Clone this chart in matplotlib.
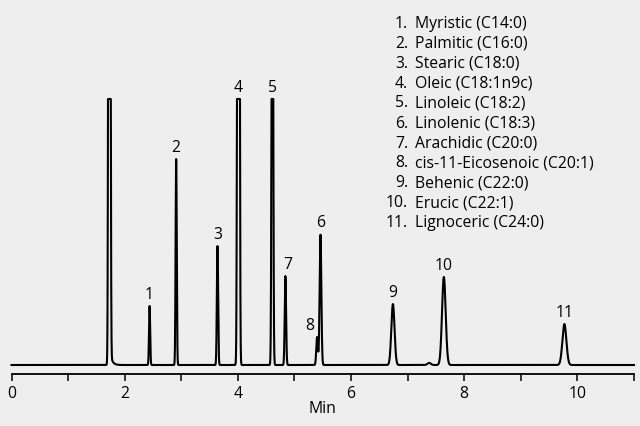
import numpy as np
import matplotlib
matplotlib.use('Agg')
import matplotlib.pyplot as plt

plt.rcParams['font.family'] = ['Open Sans', 'DejaVu Sans']

# numbered peaks (retention time in min, relative height, peak sigma in min)
peak_no = ['1', '2', '3', '4', '5', '6', '7', '8', '9', '10', '11']
peak_time = [2.44, 2.91, 3.64, 4.01, 4.61, 5.46, 4.84, 5.40, 6.74, 7.64, 9.77]
peak_height = [0.222, 0.774, 0.447, 10.0, 2.5, 0.49, 0.335, 0.105, 0.229, 0.331, 0.154]
peak_sigma = [0.010, 0.010, 0.011, 0.013, 0.012, 0.015, 0.012, 0.014, 0.028, 0.032, 0.035]

# unlabeled signals: solvent front and a small bump
extra_time = [1.73, 7.38]
extra_height = [10.0, 0.008]
extra_sigma = [0.012, 0.03]

# solvent tailing (start, height, decay in min)
tail_start = 1.73
tail_height = 0.07
tail_decay = 0.035

names = ['Myristic (C14:0)', 'Palmitic (C16:0)', 'Stearic (C18:0)',
         'Oleic (C18:1n9c)', 'Linoleic (C18:2)', 'Linolenic (C18:3)',
         'Arachidic (C20:0)', 'cis-11-Eicosenoic (C20:1)', 'Behenic (C22:0)',
         'Erucic (C22:1)', 'Lignoceric (C24:0)']

detector_max = 1.0

t = np.linspace(0, 11, 6000)
signal = np.zeros_like(t)
for tr, h, s in zip(peak_time + extra_time, peak_height + extra_height,
                    peak_sigma + extra_sigma):
    signal += h * np.exp(-0.5 * ((t - tr) / s) ** 2)
after = t >= tail_start
signal[after] += tail_height * np.exp(-(t[after] - tail_start) / tail_decay)
signal = np.minimum(signal, detector_max)

bg = '#eeeeee'
fig = plt.figure(figsize=(6.4, 4.27), dpi=100, facecolor=bg)
ax = fig.add_axes([11.5 / 640, 52 / 427, 622.5 / 640, 285 / 427])
ax.set_facecolor(bg)

ax.plot(t, signal, color='black', lw=1.5, solid_joinstyle='round', clip_on=False)

ax.set_xlim(0, 11)
ax.set_ylim(-9 / 266, 1 + 10 / 266)

for side in ['top', 'right', 'left']:
    ax.spines[side].set_visible(False)
ax.spines['bottom'].set_linewidth(1.3)
ax.set_yticks([])
ax.set_xticks([0, 2, 4, 6, 8, 10])
ax.set_xticks([1, 3, 5, 7, 9, 11], minor=True)
ax.tick_params(axis='x', which='both', direction='out', length=5, width=1.1,
               labelsize=11.3, pad=3)
ax.set_xlabel('Min', fontsize=11.3, labelpad=-1)

# peak labels
nudge = {'7': 2, '8': -7}
for n, tr, h in zip(peak_no, peak_time, peak_height):
    ax.annotate(n, (tr, min(h, detector_max)), xytext=(nudge.get(n, 0) * 0.72, 3),
                textcoords='offset points', ha='center', va='bottom', fontsize=11.3)

# peak legend
for i, name in enumerate(names):
    y = 1 - (23.5 + 20 * i) / 427
    fig.text(408 / 640, y, f'{i + 1}.', ha='right', va='center', fontsize=11.3)
    fig.text(415 / 640, y, name, ha='left', va='center', fontsize=11.3)

fig.savefig('out.png', dpi=100, facecolor=bg)
